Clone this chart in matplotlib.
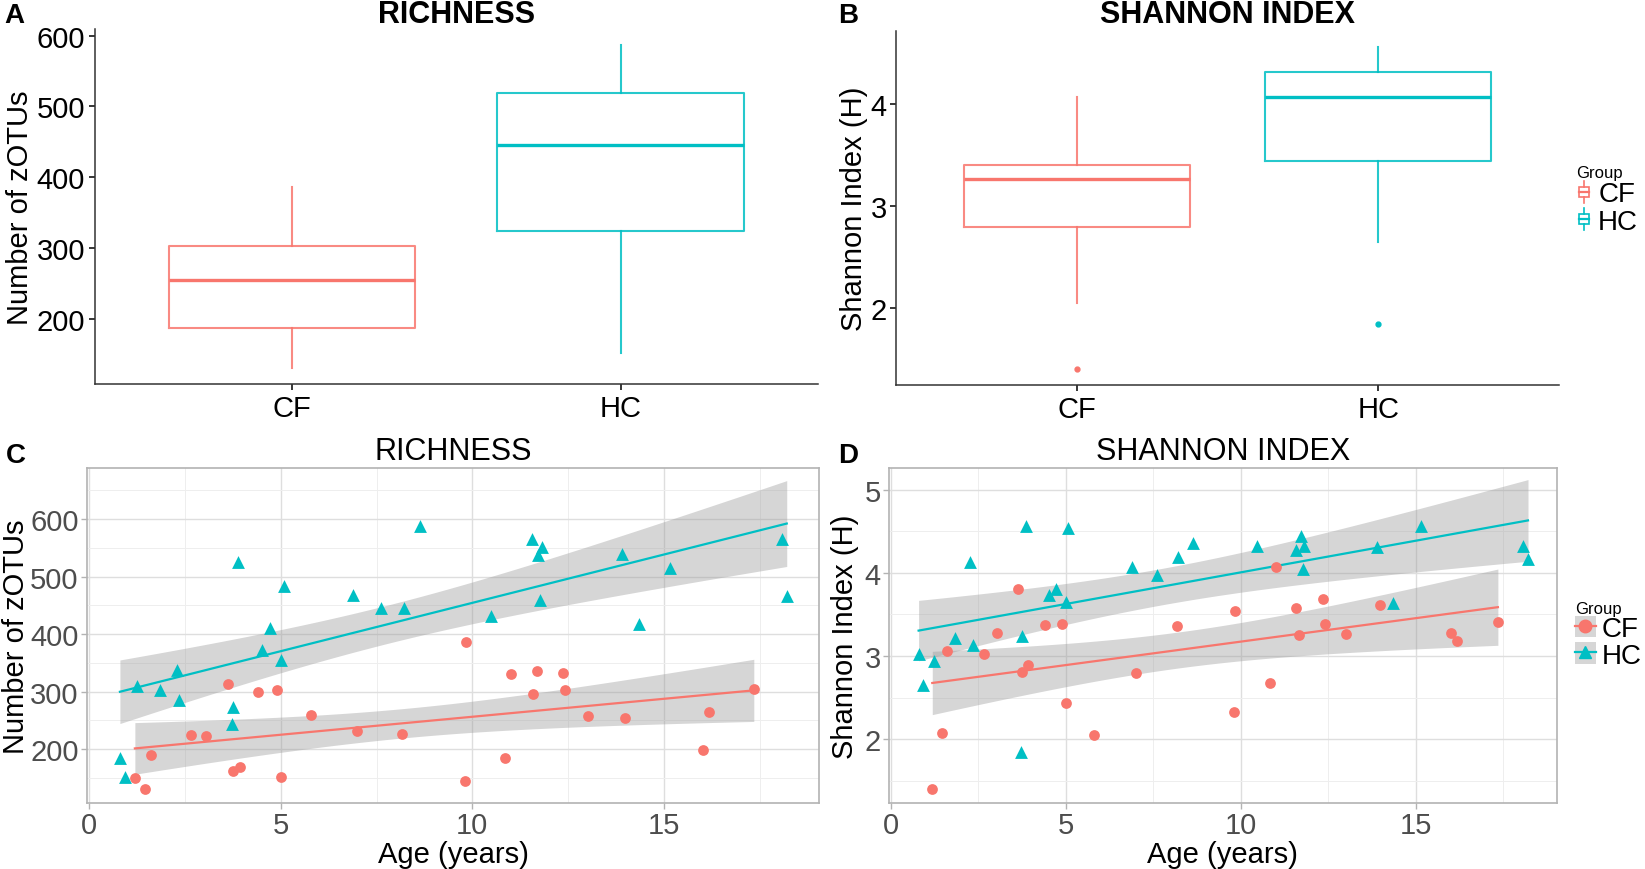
import numpy as np
import matplotlib
matplotlib.use('Agg')
import matplotlib.pyplot as plt
from matplotlib.patches import Rectangle, Patch
from matplotlib.lines import Line2D
from matplotlib.legend_handler import HandlerBase, HandlerTuple

plt.rcParams['font.family'] = ['Liberation Sans', 'DejaVu Sans']

# ----------------------------------------------------------------------
# data (age in years, richness = zOTUs, Shannon H)
# ----------------------------------------------------------------------
groups = ['CF', 'HC']
colors = {'CF': '#F8766D', 'HC': '#00BFC4'}

cf_age = [1.19, 1.46, 1.61, 2.66, 3.05, 3.63, 3.74, 3.93, 4.41, 4.89, 5.00, 5.80, 7.00, 8.17,
          9.81, 9.84, 10.85, 11.02, 11.58, 11.68, 12.36, 12.41, 13.01, 13.99, 16.02, 16.17, 17.35]
cf_rich = [149, 130, 190, 224, 222, 313, 162, 168, 299, 303, 152, 260, 231, 226,
           144, 386, 184, 330, 296, 335, 332, 303, 257, 254, 199, 265, 304]
cf_shan = [1.40, 2.07, 3.06, 3.02, 3.28, 3.81, 2.81, 2.89, 3.37, 3.39, 2.43, 2.05, 2.79, 3.36,
           2.32, 3.54, 2.67, 4.07, 3.58, 3.25, 3.69, 3.39, 3.27, 3.61, 3.28, 3.18, 3.41]

hc_age = [0.80, 0.93, 1.25, 1.85, 2.28, 2.35, 3.73, 3.76, 3.87, 4.52, 4.72, 5.00, 5.08, 6.89,
          7.62, 8.22, 8.63, 10.48, 11.57, 11.72, 11.77, 11.81, 13.90, 14.35, 15.16, 18.08, 18.21]
hc_rich = [184, 151, 310, 303, 338, 286, 243, 273, 525, 373, 410, 355, 484, 468,
           446, 446, 587, 432, 566, 537, 460, 552, 539, 417, 514, 565, 466]
hc_shan = [3.03, 2.65, 2.94, 3.22, 4.13, 3.13, 1.84, 3.24, 4.56, 3.74, 3.81, 3.65, 4.54, 4.07,
           3.97, 4.19, 4.36, 4.33, 4.28, 4.45, 4.05, 4.32, 4.31, 3.64, 4.56, 4.32, 4.17]

ages = {'CF': cf_age, 'HC': hc_age}
rich = {'CF': cf_rich, 'HC': hc_rich}
shan = {'CF': cf_shan, 'HC': hc_shan}
markers = {'CF': 'o', 'HC': '^'}

T_975 = 2.0595  # t quantile, df = 25

W, H = 1645, 870
fig = plt.figure(figsize=(W / 100, H / 100), dpi=100)


def px_axes(l, t, r, b):
    return fig.add_axes([l / W, 1 - b / H, (r - l) / W, (b - t) / H])


def ftext(x, y, s, **kw):
    fig.text(x / W, 1 - y / H, s, **kw)


class BoxKey(HandlerBase):
    def create_artists(self, legend, orig, xd, yd, w, h, fontsize, trans):
        c = orig.get_edgecolor()
        x0, y0 = -xd, -yd
        box = Rectangle((x0 + 0.2 * w, y0 + 0.25 * h), 0.6 * w, 0.5 * h,
                        facecolor='none', edgecolor=c, lw=1.2, transform=trans)
        med = Line2D([x0 + 0.2 * w, x0 + 0.8 * w], [y0 + 0.5 * h] * 2, color=c, lw=1.6, transform=trans)
        wl = Line2D([x0 + 0.5 * w] * 2, [y0 - 0.05 * h, y0 + 0.25 * h], color=c, lw=1.2, transform=trans)
        wh = Line2D([x0 + 0.5 * w] * 2, [y0 + 0.75 * h, y0 + 1.05 * h], color=c, lw=1.2, transform=trans)
        return [box, med, wl, wh]


# ----------------------------------------------------------------------
# A / B : boxplots
# ----------------------------------------------------------------------
def box_panel(ax, vals, ylim, yticks, ylabel):
    data = [vals[g] for g in groups]
    bp = ax.boxplot(data, positions=[1, 2], widths=0.75, whis=1.5, patch_artist=False,
                    manage_ticks=False)
    for i, g in enumerate(groups):
        c = colors[g]
        bp['boxes'][i].set(color=c, lw=1.5, alpha=0.85)
        bp['medians'][i].set(color=c, lw=2.4)
        for k in (2 * i, 2 * i + 1):
            bp['whiskers'][k].set(color=c, lw=1.5, alpha=0.85)
            bp['caps'][k].set(visible=False)
        bp['fliers'][i].set(marker='o', markerfacecolor=c, markeredgecolor=c, markersize=3.5)
    ax.set_xlim(0.4, 2.6)
    ax.set_ylim(*ylim)
    ax.set_xticks([1, 2])
    ax.set_xticklabels(groups)
    ax.set_yticks(yticks)
    for s in ('top', 'right'):
        ax.spines[s].set_visible(False)
    for s in ('left', 'bottom'):
        ax.spines[s].set_color('#333333')
        ax.spines[s].set_linewidth(1.1)
    ax.tick_params(axis='both', labelsize=21, colors='black', length=4, width=1.1, pad=3)
    ax.set_ylabel(ylabel, fontsize=21, labelpad=2)


axA = px_axes(94.6, 29.8, 817.9, 385.2)
box_panel(axA, rich, (107.2, 609.9), [200, 300, 400, 500, 600], 'Number of zOTUs')

axB = px_axes(896.4, 32.3, 1558.8, 386.2)
box_panel(axB, shan, (1.242, 4.718), [2, 3, 4], 'Shannon Index (H)')

ftext(456.5, 15, 'RICHNESS', fontsize=22, fontweight='bold', ha='center', va='center')
ftext(1227.6, 15, 'SHANNON INDEX', fontsize=22, fontweight='bold', ha='center', va='center')

box_handles = [Patch(edgecolor=colors[g], facecolor='none') for g in groups]
legB = fig.legend(box_handles, groups, loc='upper left', bbox_to_anchor=(1576 / W, 1 - 166 / H),
                  title='Group', title_fontsize=12, fontsize=20, frameon=False,
                  handler_map={Patch: BoxKey()}, handlelength=0.6, handleheight=0.75,
                  handletextpad=0.2, labelspacing=0.05, borderpad=0.0, borderaxespad=0.0,
                  alignment='left')


# ----------------------------------------------------------------------
# C / D : scatter with linear fits and 95% CI
# ----------------------------------------------------------------------
def fit_band(x, y):
    x = np.asarray(x, float)
    y = np.asarray(y, float)
    n = len(x)
    b, a = np.polyfit(x, y, 1)
    resid = y - (a + b * x)
    s = np.sqrt(np.sum(resid ** 2) / (n - 2))
    xs = np.linspace(x.min(), x.max(), 80)
    se = s * np.sqrt(1 / n + (xs - x.mean()) ** 2 / np.sum((x - x.mean()) ** 2))
    yh = a + b * xs
    return xs, yh, yh - T_975 * se, yh + T_975 * se


def scatter_panel(ax, vals, xlim, ylim, yticks, yminor, ylabel, ylab_x):
    ax.set_facecolor('white')
    for g in groups:
        xs, yh, lo, hi = fit_band(ages[g], vals[g])
        ax.fill_between(xs, lo, hi, color='#999999', alpha=0.4, lw=0, zorder=2)
    for g in groups:
        xs, yh, lo, hi = fit_band(ages[g], vals[g])
        ax.plot(xs, yh, color=colors[g], lw=1.6, zorder=3)
    for g in groups:
        ax.scatter(ages[g], vals[g], marker=markers[g], color=colors[g],
                   s=60 if g == 'CF' else 85, lw=0, zorder=4)
    ax.set_xlim(*xlim)
    ax.set_ylim(*ylim)
    ax.set_xticks([0, 5, 10, 15])
    ax.set_xticks([2.5, 7.5, 12.5, 17.5], minor=True)
    ax.set_yticks(yticks)
    ax.set_yticks(yminor, minor=True)
    ax.grid(which='major', color='#DEDEDE', lw=1.0, zorder=0)
    ax.grid(which='minor', color='#EEEEEE', lw=0.7, zorder=0)
    ax.set_axisbelow(True)
    for s in ax.spines.values():
        s.set_color('#B3B3B3')
        s.set_linewidth(1.2)
    ax.tick_params(axis='both', which='major', labelsize=21, colors='#B3B3B3',
                   labelcolor='#4D4D4D', length=4, width=1, pad=2)
    ax.tick_params(axis='both', which='minor', length=0)
    ax.set_xlabel('Age (years)', fontsize=21)
    ax.set_ylabel(ylabel, fontsize=21)
    ax.xaxis.set_label_coords(0.5, -0.112)
    ax.yaxis.set_label_coords(ylab_x, 0.5)


axC = px_axes(87, 469.3, 819.3, 804)
scatter_panel(axC, rich, (-0.06, 19.06), (106.1, 688.2), [200, 300, 400, 500, 600],
              [150, 250, 350, 450, 550, 650], 'Number of zOTUs', -0.078)

axD = px_axes(889, 469.3, 1556.7, 804)
scatter_panel(axD, shan, (-0.046, 19.03), (1.23, 5.26), [2, 3, 4, 5],
              [1.5, 2.5, 3.5, 4.5], 'Shannon Index (H)', -0.045)

ftext(453, 452, 'RICHNESS', fontsize=22, ha='center', va='center')
ftext(1223, 452, 'SHANNON INDEX', fontsize=22, ha='center', va='center')

pt_handles = [(Patch(facecolor='#D6D6D6', edgecolor='none'),
               Line2D([], [], color=colors[g], lw=1.6, marker=markers[g], markersize=9))
              for g in groups]
legD = fig.legend(pt_handles, groups, loc='upper left', bbox_to_anchor=(1575 / W, 1 - 602 / H),
                  title='Group', title_fontsize=12, fontsize=20, frameon=False,
                  handler_map={tuple: HandlerTuple(ndivide=1)}, handlelength=0.75, handleheight=0.8,
                  handletextpad=0.2, labelspacing=0.0, borderpad=0.0, borderaxespad=0.0,
                  alignment='left')

# panel letters
for lab, x, y in [('A', 14, 16), ('B', 848, 16), ('C', 16, 456), ('D', 848, 456)]:
    ftext(x, y, lab, fontsize=20, fontweight='bold', ha='center', va='center')

fig.savefig('out.png', dpi=100)
